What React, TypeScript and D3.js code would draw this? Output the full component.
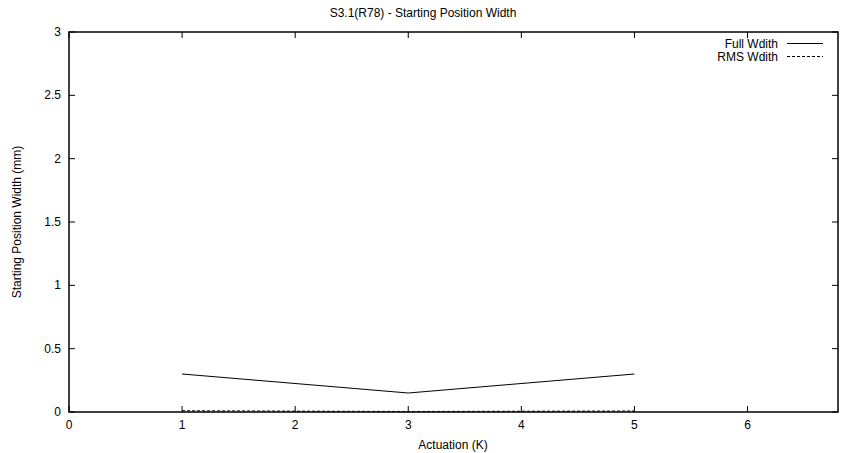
import React from "react";
import * as d3 from "d3";

const xValues = [1, 3, 5];
const fullWidth = [0.3, 0.15, 0.3];
const rmsWidth = [0.01, 0.004, 0.008];
const xTicks = [0, 1, 2, 3, 4, 5, 6];
const yTicks = [0, 0.5, 1, 1.5, 2, 2.5, 3];
const seriesNames = ["Full Wdith", "RMS Wdith"];

const W = 846, H = 453;
const L = 69, R = 838, T = 32, B = 412;

export default function App() {
  const x = d3.scaleLinear().domain([0, 6.8]).range([L, R]);
  const y = d3.scaleLinear().domain([0, 3]).range([B, T]);
  const line = d3.line<[number, number]>().x(d => x(d[0])).y(d => y(d[1]));
  const fullPts = xValues.map((v, i) => [v, fullWidth[i]] as [number, number]);
  const rmsPts = xValues.map((v, i) => [v, rmsWidth[i]] as [number, number]);
  const font = "'Liberation Sans', Arial, sans-serif";
  return (
    <svg width={W} height={H} style={{ position: "absolute", left: 0, top: 0, background: "#fff" }} fontFamily={font} fontSize={12}>
      <rect x={0} y={0} width={W} height={H} fill="#fff" />
      <text x={W / 2} y={17} textAnchor="middle" fill="#000">S3.1(R78) - Starting Position Width</text>
      {xTicks.map(t => (
        <g key={"x" + t}>
          <line x1={x(t)} x2={x(t)} y1={B} y2={B - 6} stroke="#000" strokeWidth={1} />
          <line x1={x(t)} x2={x(t)} y1={T} y2={T + 6} stroke="#000" strokeWidth={1} />
          <text x={x(t)} y={429} textAnchor="middle" fill="#000">{t}</text>
        </g>
      ))}
      {yTicks.map(t => (
        <g key={"y" + t}>
          <line x1={L} x2={L + 6} y1={y(t)} y2={y(t)} stroke="#000" strokeWidth={1} />
          <line x1={R} x2={R - 6} y1={y(t)} y2={y(t)} stroke="#000" strokeWidth={1} />
          <text x={61} y={y(t) + 4} textAnchor="end" fill="#000">{t}</text>
        </g>
      ))}
      <path d={line(rmsPts) ?? ""} fill="none" stroke="#000" strokeWidth={1} strokeDasharray="3,2" />
      <path d={line(fullPts) ?? ""} fill="none" stroke="#000" strokeWidth={1} />
      <rect x={L} y={T} width={R - L} height={B - T} fill="none" stroke="#000" strokeWidth={1.5} />
      <text x={453} y={449} textAnchor="middle" fill="#000">Actuation (K)</text>
      <text transform={`translate(21,${(T + B) / 2}) rotate(-90)`} textAnchor="middle" fill="#000">Starting Position Width (mm)</text>
      {seriesNames.map((n, i) => (
        <g key={n}>
          <text x={778} y={47.5 + i * 13} textAnchor="end" fill="#000">{n}</text>
          <line x1={787} x2={823} y1={43.5 + i * 13} y2={43.5 + i * 13} stroke="#000" strokeWidth={1} strokeDasharray={i === 1 ? "3,2" : undefined} />
        </g>
      ))}
    </svg>
  );
}
